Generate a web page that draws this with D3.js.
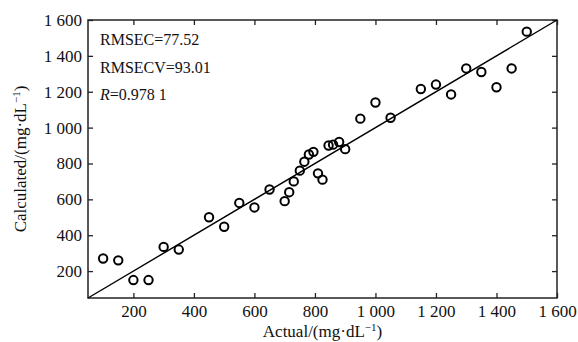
<!DOCTYPE html>
<html>
<head>
<meta charset="utf-8">
<script src="https://cdn.jsdelivr.net/npm/d3@7"></script>
<style>
  body { margin: 0; background: #fff; }
  text { font-family: "Liberation Serif", "Times New Roman", serif; fill: #111; }
</style>
</head>
<body>
<div id="graph"></div>
<script>
const w = 578;
const h = 342;
const margin = { top: 20, right: 21, bottom: 44, left: 88 };

// data
const actual = [100, 150, 200, 250, 300, 350, 450, 500, 550, 600, 650, 700, 715, 730, 750,
                765, 780, 795, 810, 825, 845, 860, 880, 900, 950, 1000, 1050, 1150, 1200,
                1250, 1300, 1350, 1400, 1450, 1500];
const calculated = [270, 260, 150, 150, 335, 320, 500, 447, 580, 555, 655, 590, 640, 700, 760,
                    810, 850, 865, 745, 710, 900, 905, 920, 880, 1050, 1140, 1055, 1215, 1240,
                    1185, 1330, 1310, 1225, 1330, 1535];
const fitX = [50, 1600];
const fitY = [50, 1600];
const xTicks = [200, 400, 600, 800, 1000, 1200, 1400, 1600];
const yTicks = [200, 400, 600, 800, 1000, 1200, 1400, 1600];
const stats = ["RMSEC=77.52", "RMSECV=93.01", "=0.978 1"];

const fmt = d => d3.format(",")(d).replace(",", " ");

const svg = d3.select('#graph')
  .append('svg')
  .attr('width', w)
  .attr('height', h);

const xScale = d3.scaleLinear()
  .domain([50, 1600])
  .range([margin.left, w - margin.right]);

const yScale = d3.scaleLinear()
  .domain([50, 1600])
  .range([h - margin.bottom, margin.top]);

const x0 = xScale.range()[0], x1 = xScale.range()[1];
const y0 = yScale.range()[0], y1 = yScale.range()[1];

// axes, ticks pointing inward (matlab style box)
const xAxis = d3.axisBottom(xScale).tickValues(xTicks).tickFormat(fmt).tickSizeInner(-5).tickSizeOuter(0).tickPadding(7);
const yAxis = d3.axisLeft(yScale).tickValues(yTicks).tickFormat(fmt).tickSizeInner(-5).tickSizeOuter(0).tickPadding(6);
const xTop = d3.axisTop(xScale).tickValues(xTicks).tickFormat('').tickSizeInner(-5).tickSizeOuter(0);
const yRight = d3.axisRight(yScale).tickValues(yTicks).tickFormat('').tickSizeInner(-5).tickSizeOuter(0);

svg.append('g').attr('transform', 'translate(0,' + y0 + ')').call(xAxis);
svg.append('g').attr('transform', 'translate(' + x0 + ',0)').call(yAxis);
svg.append('g').attr('transform', 'translate(0,' + y1 + ')').call(xTop);
svg.append('g').attr('transform', 'translate(' + x1 + ',0)').call(yRight);

svg.selectAll('.domain').remove();
svg.selectAll('.tick line').attr('stroke', '#222').attr('stroke-width', 1.3);
svg.selectAll('.tick text')
  .style('font-family', '"Liberation Serif", serif')
  .style('font-size', '17px')
  .attr('fill', '#111');

// box
svg.append('rect')
  .attr('x', x0).attr('y', y1)
  .attr('width', x1 - x0).attr('height', y0 - y1)
  .attr('fill', 'none')
  .attr('stroke', '#222')
  .attr('stroke-width', 1.5);

// fit line
svg.append('line')
  .attr('x1', xScale(fitX[0])).attr('y1', yScale(fitY[0]))
  .attr('x2', xScale(fitX[1])).attr('y2', yScale(fitY[1]))
  .attr('stroke', '#000')
  .attr('stroke-width', 1.4);

// points
svg.selectAll('circle.dot')
  .data(actual)
  .enter()
  .append('circle')
  .attr('class', 'dot')
  .attr('cx', d => xScale(d))
  .attr('cy', (d, i) => yScale(calculated[i]))
  .attr('r', 4.2)
  .attr('fill', 'none')
  .attr('stroke', '#000')
  .attr('stroke-width', 2);

// stats text
const statY = [45, 73, 100];
stats.forEach((s, i) => {
  const t = svg.append('text')
    .attr('x', x0 + 12)
    .attr('y', statY[i])
    .style('font-size', '16px');
  if (i == 2) {
    t.append('tspan').style('font-style', 'italic').text('R');
  }
  t.append('tspan').text(s);
});

// x label
const xl = svg.append('text')
  .attr('x', (x0 + x1) / 2)
  .attr('y', 337)
  .attr('text-anchor', 'middle')
  .style('font-size', '17px');
xl.append('tspan').text('Actual/(mg·dL');
xl.append('tspan').attr('dy', -6).style('font-size', '11px').text('−1');
xl.append('tspan').attr('dy', 6).text(')');

// y label
const yl = svg.append('text')
  .attr('transform', 'rotate(-90)')
  .attr('x', -(y0 + y1) / 2)
  .attr('y', 26)
  .attr('text-anchor', 'middle')
  .style('font-size', '17px');
yl.append('tspan').text('Calculated/(mg·dL');
yl.append('tspan').attr('dy', -6).style('font-size', '11px').text('−1');
yl.append('tspan').attr('dy', 6).text(')');
</script>
</body>
</html>
